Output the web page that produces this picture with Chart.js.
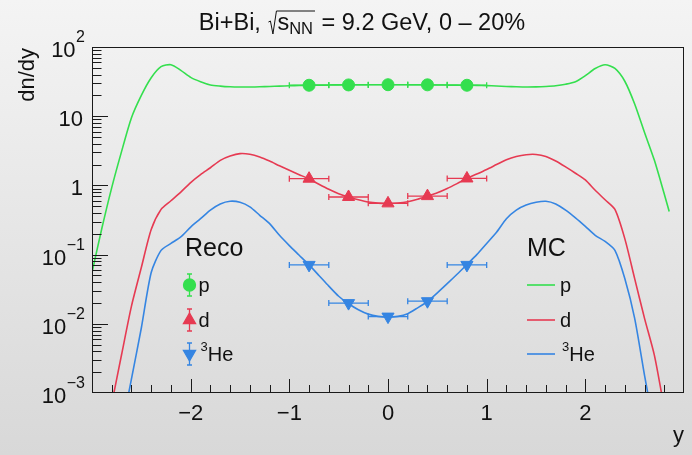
<!DOCTYPE html>
<html>
<head>
<meta charset="utf-8">
<style>
  html, body { margin: 0; padding: 0; background: #e4e4e4; }
  canvas { display: block; }
</style>
<script src="https://cdn.jsdelivr.net/npm/chart.js@4.4.0/dist/chart.umd.min.js"></script>
</head>
<body>
<canvas id="chart" width="692" height="455"></canvas>
<script>
// ---- text ----
const titleLead = 'Bi+Bi, ';
const titleRootArg = 's';
const titleRootSub = 'NN';
const titleTail = ' = 9.2 GeV, 0 \u2013 20%';
const yAxisTitle = 'dn/dy';
const xAxisTitle = 'y';
const recoHeader = 'Reco';
const mcHeader = 'MC';
// species labels: [superscript, name]
const speciesLabels = [['', 'p'], ['', 'd'], ['3', 'He']];

// ---- axis ticks ----
const xMajorTicks = [-2, -1, 0, 1, 2];
const xTickLabels = ['\u22122', '\u22121', '0', '1', '2'];
const yMajorTicks = [1e-3, 1e-2, 1e-1, 1, 10, 100];
// [mantissa, exponent]
const yTickLabels = [['10', '\u22123'], ['10', '\u22122'], ['10', '\u22121'], ['1', ''], ['10', ''], ['10', '2']];

// ---- reconstructed spectra (bin centres, half bin widths) ----
const recoRapidity = [-0.8, -0.4, 0.0, 0.4, 0.8];
const recoHalfWidth = [0.2, 0.2, 0.2, 0.2, 0.2];
const recoProton = [28.0, 28.3, 28.5, 28.4, 28.0];
const recoDeuteron = [1.25, 0.68, 0.55, 0.70, 1.26];
const recoHelium3 = [0.071, 0.0199, 0.0127, 0.0212, 0.071];

// ---- generated (MC) spectra ----
const mcProtonY = [-3.0, -2.9, -2.8, -2.7, -2.6, -2.5, -2.4, -2.3, -2.2, -2.1, -2.0, -1.9, -1.8, -1.7, -1.6, -1.5, -1.4, -1.3, -1.2, -1.1,
  -1.0, -0.9, -0.8, -0.7, -0.6, -0.5, -0.4, -0.3, -0.2, -0.1, 0.0, 0.1, 0.2, 0.3, 0.4, 0.5, 0.6, 0.7, 0.8, 0.9,
  1.0, 1.1, 1.2, 1.3, 1.4, 1.5, 1.6, 1.7, 1.8, 1.9, 2.0, 2.1, 2.2, 2.3, 2.4, 2.5, 2.6, 2.7, 2.8, 2.85];
const mcProton = [0.055, 0.24, 0.93, 3.1, 9.5, 20, 36, 52, 55.5, 46, 36.4, 31.5, 28.3, 27.2, 26.6, 26.4, 26.4, 26.6, 26.9, 27.2,
  27.5, 27.8, 28.0, 28.2, 28.3, 28.4, 28.5, 28.5, 28.5, 28.5, 28.5, 28.5, 28.5, 28.5, 28.4, 28.3, 28.2, 28.1, 28.0, 27.9,
  27.7, 27.3, 26.9, 26.6, 26.4, 26.5, 26.9, 27.6, 29.0, 31.5, 38.5, 49, 55.5, 49, 32, 15, 5.8, 2.3, 0.75, 0.42];

const mcDeuteronY = [-2.8, -2.7, -2.6, -2.5, -2.4, -2.3, -2.2, -2.1, -2.0, -1.9, -1.8, -1.7, -1.6, -1.5, -1.4, -1.3, -1.2, -1.1,
  -1.0, -0.9, -0.8, -0.7, -0.6, -0.5, -0.4, -0.3, -0.2, -0.1, 0.0, 0.1, 0.2, 0.3, 0.4, 0.5, 0.6, 0.7, 0.8, 0.9,
  1.0, 1.1, 1.2, 1.3, 1.4, 1.5, 1.6, 1.7, 1.8, 1.9, 2.0, 2.1, 2.2, 2.3, 2.4, 2.5, 2.6, 2.7, 2.8];
const mcDeuteron = [0.0007, 0.0036, 0.018, 0.065, 0.23, 0.45, 0.6, 0.8, 1.1, 1.43, 1.8, 2.3, 2.65, 2.88, 2.82, 2.58, 2.25, 1.92,
  1.65, 1.43, 1.24, 1.04, 0.88, 0.76, 0.68, 0.62, 0.575, 0.555, 0.55, 0.556, 0.58, 0.63, 0.70, 0.78, 0.90, 1.06, 1.26, 1.46,
  1.70, 2.0, 2.35, 2.62, 2.78, 2.8, 2.62, 2.25, 1.85, 1.5, 1.2, 0.85, 0.62, 0.45, 0.17, 0.045, 0.012, 0.0035, 0.0006];

const mcHelium3Y = [-2.7, -2.6, -2.5, -2.4, -2.3, -2.2, -2.1, -2.0, -1.9, -1.8, -1.7, -1.6, -1.5, -1.4, -1.3, -1.2, -1.1,
  -1.0, -0.9, -0.8, -0.7, -0.6, -0.5, -0.4, -0.3, -0.2, -0.1, 0.0, 0.1, 0.2, 0.3, 0.4, 0.5, 0.6, 0.7, 0.8, 0.9,
  1.0, 1.1, 1.2, 1.3, 1.4, 1.5, 1.6, 1.7, 1.8, 1.9, 2.0, 2.1, 2.2, 2.3, 2.4, 2.5, 2.6, 2.7];
const mcHelium3 = [0.0003, 0.0016, 0.0087, 0.055, 0.115, 0.145, 0.18, 0.25, 0.33, 0.44, 0.54, 0.59, 0.57, 0.49, 0.37, 0.28, 0.19,
  0.135, 0.098, 0.071, 0.050, 0.035, 0.025, 0.0195, 0.016, 0.0138, 0.0128, 0.0125, 0.0128, 0.014, 0.017, 0.021, 0.028, 0.038, 0.052, 0.072, 0.10,
  0.145, 0.21, 0.33, 0.44, 0.52, 0.57, 0.59, 0.54, 0.44, 0.34, 0.256, 0.19, 0.155, 0.115, 0.045, 0.012, 0.0018, 0.0003];

// ---- colours ----
const colProton = '#34df4e';
const colDeuteron = '#e63a52';
const colHelium3 = '#3585e2';

const FONT_FAMILY = '"Liberation Sans", Arial, Helvetica, sans-serif';
const font = px => px + 'px ' + FONT_FAMILY;
const pairs = (xs, ys) => xs.map((v, i) => ({ x: v, y: ys[i] }));

// vertical grey gradient behind everything
const backdrop = {
  id: 'backdrop',
  beforeDraw(chart) {
    const { ctx, width, height } = chart;
    const g = ctx.createLinearGradient(0, 0, 0, height);
    g.addColorStop(0, '#f4f4f4');
    g.addColorStop(1, '#d8d8d8');
    ctx.save();
    ctx.fillStyle = g;
    ctx.fillRect(0, 0, width, height);
    ctx.restore();
  }
};

// horizontal bin-width bars with end caps for reconstructed points
const binBars = {
  id: 'binBars',
  beforeDatasetsDraw(chart) {
    const { ctx, chartArea: a, scales: { x, y } } = chart;
    ctx.save();
    ctx.beginPath();
    ctx.rect(a.left, a.top, a.right - a.left, a.bottom - a.top);
    ctx.clip();
    chart.data.datasets.forEach(ds => {
      if (!ds.halfWidth) return;
      ctx.strokeStyle = ds.borderColor;
      ctx.lineWidth = 1.3;
      ds.data.forEach((pt, i) => {
        const py = y.getPixelForValue(pt.y);
        const x0 = x.getPixelForValue(pt.x - ds.halfWidth[i]);
        const x1 = x.getPixelForValue(pt.x + ds.halfWidth[i]);
        ctx.beginPath();
        ctx.moveTo(x0, py); ctx.lineTo(x1, py);
        ctx.moveTo(x0, py - 3); ctx.lineTo(x0, py + 3);
        ctx.moveTo(x1, py - 3); ctx.lineTo(x1, py + 3);
        ctx.stroke();
      });
    });
    ctx.restore();
  }
};

// frame, inward ticks, tick labels, titles and legend
const decorations = {
  id: 'decorations',
  afterDraw(chart) {
    const { ctx, chartArea: a, scales: { x, y } } = chart;
    ctx.save();

    // frame
    ctx.strokeStyle = '#1a1a1a';
    ctx.lineWidth = 1;
    ctx.strokeRect(a.left + 0.5, a.top + 0.5, a.right - a.left - 1, a.bottom - a.top - 1);

    // x ticks every 0.2, longer at integers
    ctx.beginPath();
    for (let k = -14; k <= 14; k++) {
      const px = Math.round(x.getPixelForValue(k / 5)) + 0.5;
      const len = (k % 5 === 0) ? 13 : 7;
      ctx.moveTo(px, a.bottom - 1);
      ctx.lineTo(px, a.bottom - 1 - len);
    }
    // y ticks, decades and 2..9 subdivisions
    for (let e = -3; e <= 2; e++) {
      for (let m = 1; m <= 9; m++) {
        const v = m * Math.pow(10, e);
        if (v > 100.0001) break;
        const py = Math.round(y.getPixelForValue(v)) + 0.5;
        if (py < a.top || py > a.bottom) continue;
        const len = (m === 1) ? 15 : 8.5;
        ctx.moveTo(a.left + 1, py);
        ctx.lineTo(a.left + 1 + len, py);
      }
    }
    ctx.stroke();

    ctx.fillStyle = '#111';

    // x tick labels
    ctx.font = font(22);
    ctx.textAlign = 'center';
    ctx.textBaseline = 'alphabetic';
    xMajorTicks.forEach((v, i) => {
      ctx.fillText(xTickLabels[i], x.getPixelForValue(v), a.bottom + 27);
    });

    // y tick labels with exponents
    const labelRight = 85;
    yMajorTicks.forEach((v, i) => {
      const [mant, expo] = yTickLabels[i];
      const py = y.getPixelForValue(v);
      ctx.font = font(16);
      const ew = expo ? ctx.measureText(expo).width : 0;
      ctx.textAlign = 'left';
      if (expo) ctx.fillText(expo, labelRight - ew, py - 5);
      ctx.font = font(22);
      ctx.textAlign = 'right';
      ctx.fillText(mant, labelRight - ew - (expo ? 0.5 : 2), py + 10);
    });

    // axis titles
    ctx.font = font(22);
    ctx.textAlign = 'right';
    ctx.fillText(xAxisTitle, a.right, 442);
    ctx.save();
    ctx.translate(34, a.top + 1);
    ctx.rotate(-Math.PI / 2);
    ctx.textAlign = 'right';
    ctx.fillText(yAxisTitle, 0, 0);
    ctx.restore();

    // title with square root
    drawTitle(ctx);

    // legends
    drawLegends(ctx);

    ctx.restore();
  }
};

function drawTitle(ctx) {
  const big = font(23.5), small = font(16.5);
  ctx.font = big;
  const wLead = ctx.measureText(titleLead).width;
  const wArg = ctx.measureText(titleRootArg).width;
  const wTail = ctx.measureText(titleTail).width;
  ctx.font = small;
  const wSub = ctx.measureText(titleRootSub).width;
  const wRad = 10;
  const total = wLead + wRad + wArg + wSub + wTail + 2;
  const base = 30;
  let cx = 362 - total / 2;
  ctx.textAlign = 'left';
  ctx.font = big;
  ctx.fillText(titleLead, cx, base);
  cx += wLead;
  // radical sign
  ctx.strokeStyle = '#111';
  ctx.lineWidth = 1;
  ctx.beginPath();
  ctx.moveTo(cx + 1, base - 8);
  ctx.lineTo(cx + 3, base - 9);
  ctx.lineTo(cx + 5.5, base + 4);
  ctx.lineTo(cx + 9, base - 19);
  ctx.lineTo(cx + wRad + wArg + wSub + 2, base - 19);
  ctx.stroke();
  cx += wRad;
  ctx.fillText(titleRootArg, cx, base);
  cx += wArg;
  ctx.font = small;
  ctx.fillText(titleRootSub, cx, base + 4);
  cx += wSub + 2;
  ctx.font = big;
  ctx.fillText(titleTail, cx, base);
}

function drawLegends(ctx) {
  const rows = [285, 320, 354];
  const colours = [colProton, colDeuteron, colHelium3];
  const markers = [
    { pointStyle: 'circle', radius: 6, rotation: 0 },
    { pointStyle: 'triangle', radius: 7, rotation: 0 },
    { pointStyle: 'triangle', radius: 7, rotation: 180 }
  ];
  ctx.textAlign = 'left';
  ctx.fillStyle = '#111';
  ctx.font = font(25);
  ctx.fillText(recoHeader, 185, 256);
  ctx.fillText(mcHeader, 527, 256);

  rows.forEach((ry, i) => {
    const c = colours[i];
    // reconstructed: marker with vertical bar
    ctx.strokeStyle = c;
    ctx.fillStyle = c;
    ctx.lineWidth = 1.3;
    ctx.beginPath();
    ctx.moveTo(189.5, ry - 11); ctx.lineTo(189.5, ry + 11);
    ctx.moveTo(187, ry - 11); ctx.lineTo(192, ry - 11);
    ctx.moveTo(187, ry + 11); ctx.lineTo(192, ry + 11);
    ctx.stroke();
    Chart.helpers.drawPoint(ctx, { pointStyle: markers[i].pointStyle, radius: markers[i].radius, rotation: markers[i].rotation, borderWidth: 1 }, 189.5, ry);
    // generated: line sample
    ctx.lineWidth = 1.6;
    ctx.beginPath();
    ctx.moveTo(527, ry); ctx.lineTo(555, ry);
    ctx.stroke();
    // labels
    ctx.fillStyle = '#111';
    [[198.5], [560]].forEach(([lx]) => {
      const [sup, name] = speciesLabels[i];
      let tx = lx;
      if (sup) {
        ctx.font = font(13);
        ctx.fillText(sup, tx + 2, ry - 3);
        tx += ctx.measureText(sup).width + 2;
      }
      ctx.font = font(20);
      ctx.fillText(name, tx, ry + 7);
    });
  });
}

const recoSet = (label, ys, colour, style, radius, rotation) => ({
  label,
  data: pairs(recoRapidity, ys),
  halfWidth: recoHalfWidth,
  showLine: false,
  pointStyle: style,
  pointRadius: radius,
  pointRotation: rotation,
  pointBackgroundColor: colour,
  pointBorderColor: colour,
  pointBorderWidth: 1,
  borderColor: colour,
  backgroundColor: colour,
  order: 0
});

const mcSet = (label, xs, ys, colour) => ({
  label,
  data: pairs(xs, ys),
  showLine: true,
  pointRadius: 0,
  borderColor: colour,
  backgroundColor: colour,
  borderWidth: 1.6,
  tension: 0.25,
  clip: 0,
  order: 1
});

new Chart(document.getElementById('chart'), {
  type: 'scatter',
  data: {
    datasets: [
      recoSet('p (Reco)', recoProton, colProton, 'circle', 6, 0),
      recoSet('d (Reco)', recoDeuteron, colDeuteron, 'triangle', 7, 0),
      recoSet('3He (Reco)', recoHelium3, colHelium3, 'triangle', 7, 180),
      mcSet('p (MC)', mcProtonY, mcProton, colProton),
      mcSet('d (MC)', mcDeuteronY, mcDeuteron, colDeuteron),
      mcSet('3He (MC)', mcHelium3Y, mcHelium3, colHelium3)
    ]
  },
  options: {
    responsive: false,
    animation: false,
    events: [],
    devicePixelRatio: 1,
    layout: { padding: { left: 92, right: 8, top: 47, bottom: 62 } },
    scales: {
      x: { type: 'linear', min: -3, max: 3, display: false },
      y: { type: 'logarithmic', min: 0.001, max: 100, display: false }
    },
    plugins: {
      legend: { display: false },
      tooltip: { enabled: false },
      title: { display: false }
    }
  },
  plugins: [backdrop, binBars, decorations]
});
</script>
</body>
</html>
